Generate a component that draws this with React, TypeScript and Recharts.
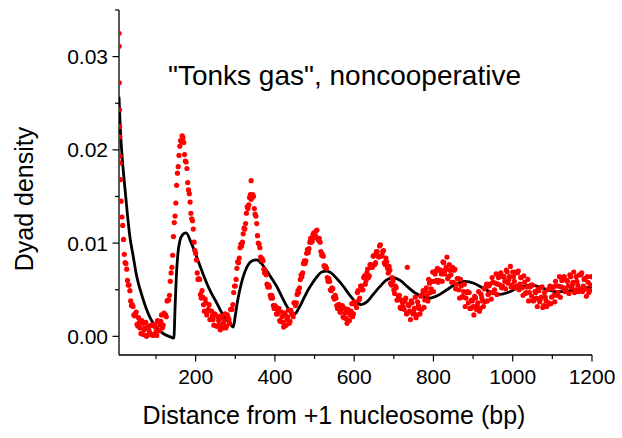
import { ComposedChart, Scatter, Line, XAxis, YAxis } from "recharts";

const FONT = "'Liberation Sans', Arial, sans-serif";

// measured dyad density (units of 1e-4)
// first cluster right at the origin
const dyadStartBp = [6.6, 7, 7.4, 7.8, 8.2, 8.6, 9, 9.4];
const dyadStartE4 = [325, 311, 272, 243, 225, 214, 193, 186];

// one point every 4 bp from 10 bp
const dyadFirstBp = 10;
const dyadStepBp = 4;
const dyadE4 = [
  168, 128, 104, 79, 72, 55, 49, 33, 32, 22,
  26, 11, 15, 3, 14, 7, 15, 1, 7, 2,
  12, 2, 10, 1, 16, 12, 23, 12, 23, 21,
  39, 44, 68, 87, 122, 143, 175, 194, 210, 215,
  208, 188, 180, 157, 144, 126, 115, 92, 82, 61,
  61, 41, 42, 27, 36, 27, 34, 18, 22, 12,
  23, 11, 17, 7, 20, 14, 24, 11, 20, 14,
  29, 34, 54, 61, 80, 84, 99, 101, 116, 121,
  139, 141, 152, 149, 150, 131, 121, 100, 95, 82,
  81, 68, 66, 53, 53, 41, 41, 30, 32, 24,
  30, 16, 21, 10, 23, 18, 28, 16, 25, 21,
  36, 36, 49, 52, 66, 68, 81, 81, 93, 94,
  105, 102, 111, 108, 114, 103, 101, 87, 86, 74,
  73, 59, 59, 49, 51, 40, 41, 30, 34, 26,
  33, 20, 25, 14, 27, 23, 35, 24, 35, 31,
  49, 41, 54, 50, 65, 60, 72, 65, 77, 74,
  87, 79, 91, 85, 98, 87, 92, 77, 80, 68,
  71, 55, 59, 46, 52, 39, 44, 30, 36, 29,
  41, 25, 33, 18, 36, 27, 42, 23, 33, 24,
  29, 49, 39, 52, 38, 57, 51, 69, 59, 70,
  73, 60, 71, 59, 79, 71, 85, 64, 71, 58,
  58, 72, 56, 62, 41, 54, 43, 56, 41, 48,
  47, 30, 38, 23, 41, 33, 48, 30, 41, 32,
  37, 56, 45, 56, 40, 58, 50, 67, 56, 66,
  68, 54, 64, 51, 69, 61, 75, 55, 64, 52,
  54, 70, 56, 63, 44, 58, 47, 61, 47, 55,
  55, 39, 47, 32, 49, 40, 53, 33, 42, 32,
  36, 54, 42, 53, 37, 54, 47, 64, 53, 63,
  64, 50, 59, 46, 64, 55, 69, 50, 59, 48,
  51, 68, 54, 62, 43, 58, 49, 64,
];

// the in-between points, every 4 bp from 12 bp
const dyadMidFirstBp = 12;
const dyadMidE4 = [
  145, 119, 88, 78, 60, 55, 38, 34, 23, 24,
  13, 20, 9, 17, 2, 9, 0, 11, 4, 12,
  1, 13, 5, 17, 6, 16, 9, 25, 23, 38,
  39, 59, 74, 107, 129, 162, 182, 204, 209, 213,
  195, 187, 165, 153, 132, 124, 101, 89, 68, 62,
  45, 49, 34, 40, 23, 29, 18, 27, 18, 24,
  11, 21, 12, 22, 9, 17, 9, 23, 18, 29,
  29, 47, 54, 73, 79, 95, 97, 110, 115, 132,
  137, 149, 147, 152, 137, 129, 108, 99, 85, 83,
  72, 70, 56, 55, 44, 44, 33, 33, 24, 27,
  17, 26, 15, 25, 12, 21, 14, 28, 24, 36,
  33, 45, 47, 61, 64, 78, 78, 89, 90, 101,
  101, 109, 106, 113, 105, 105, 91, 88, 76, 75,
  63, 62, 50, 52, 42, 44, 33, 34, 26, 30,
  21, 30, 19, 29, 17, 27, 21, 37, 34, 47,
  39, 54, 50, 63, 56, 68, 63, 77, 74, 86,
  77, 91, 86, 97, 86, 91, 79, 84, 73, 75,
  57, 63, 50, 54, 39, 43, 31, 39, 31, 38,
  24, 34, 27, 38, 24, 30, 20, 37, 30, 43,
  45, 31, 49, 44, 61, 47, 59, 48, 67, 60,
  58, 71, 67, 80, 67, 74, 62, 77, 66, 74,
  71, 51, 62, 50, 61, 42, 48, 32, 47, 36,
  30, 39, 32, 43, 29, 36, 27, 45, 38, 51,
  53, 38, 54, 47, 63, 47, 57, 45, 63, 55,
  52, 64, 59, 71, 57, 64, 53, 69, 59, 69,
  68, 50, 63, 52, 65, 46, 53, 38, 53, 43,
  38, 48, 41, 51, 37, 42, 31, 47, 38, 50,
  51, 35, 51, 44, 59, 44, 54, 42, 60, 52,
  48, 60, 54, 66, 52, 58, 47, 64, 55, 66,
  66, 48, 61, 51, 64, 47, 55,
];

// stray points
const outlierBp = [340, 734];
const outlierE4 = [167, 74];

// Tonks gas model curve
const modelBp = [
  6.6, 10, 15, 22, 28, 34, 42, 51, 60, 68, 76, 85, 93, 102, 112, 122, 133, 145,
  148, 151, 155, 160, 167, 176, 188, 202, 215, 228, 240, 253, 265, 278, 288, 295,
  300, 305, 310, 316, 324, 333, 343, 354, 366, 380, 392, 404, 418, 432, 442, 450,
  460, 472, 484, 496, 508, 518, 530, 542, 556, 572, 589, 604, 618, 632, 648, 664,
  680, 698, 716, 735, 752, 770, 791, 812, 834, 856, 879, 902, 924, 946, 968, 988,
  1008, 1028, 1047, 1067, 1087, 1107, 1127, 1147, 1165, 1183, 1200,
];
const modelY = [
  0.0257, 0.0222, 0.019, 0.0157, 0.013, 0.0107, 0.0087, 0.0065, 0.005, 0.0039,
  0.0029, 0.002, 0.0014, 0.0009, 0.0005, 0.0002, 0.0, -0.0002,
  0.003, 0.0062, 0.0088, 0.0102, 0.0109, 0.0111, 0.0101, 0.0086, 0.0071, 0.0057,
  0.0046, 0.0036, 0.0026, 0.0018, 0.0013, 0.001,
  0.0022, 0.0036, 0.0047, 0.0058, 0.0069, 0.0077, 0.0081, 0.0082, 0.0078, 0.007,
  0.0062, 0.0054, 0.0042, 0.0031, 0.0026, 0.0024,
  0.003, 0.004, 0.005, 0.0058, 0.0065, 0.0069, 0.007, 0.0068, 0.0062, 0.0054,
  0.0044, 0.0037, 0.0034, 0.0037, 0.0045, 0.0053,
  0.006, 0.0063, 0.006, 0.0053, 0.0047, 0.0043, 0.0041, 0.0044, 0.005, 0.0056,
  0.0059, 0.0057, 0.0052, 0.0047, 0.0045, 0.0047,
  0.0051, 0.0054, 0.0055, 0.0053, 0.005, 0.0048, 0.0048, 0.0049, 0.0051, 0.0052,
  0.0053,
];

const xMajor = [200, 400, 600, 800, 1000, 1200];
const xMinor = [100, 300, 500, 700, 900, 1100];
const yMajor = [0, 0.01, 0.02, 0.03];
const yMajorLabels = ["0.00", "0.01", "0.02", "0.03"];
const yMinor = [0.005, 0.015, 0.025, 0.035];

const dyadData = [
  ...dyadStartBp.map((x, i) => ({ x, y: dyadStartE4[i] / 10000 })),
  ...dyadE4.map((v, i) => ({ x: dyadFirstBp + i * dyadStepBp, y: v / 10000 })),
  ...dyadMidE4.map((v, i) => ({ x: dyadMidFirstBp + i * dyadStepBp, y: v / 10000 })),
  ...outlierBp.map((x, i) => ({ x, y: outlierE4[i] / 10000 })),
];
const modelData = modelBp.map((x, i) => ({ x, y: modelY[i] }));

const XTick = ({ x, y, payload }: any) => {
  const major = xMajor.includes(payload.value);
  return (
    <g>
      <line x1={x} x2={x} y1={y} y2={y + (major ? 6.5 : 4)} stroke="#000" strokeWidth={1.2} />
      {major && (
        <text x={x} y={y + 29} textAnchor="middle" fontSize={21} fontFamily={FONT} fill="#000">
          {payload.value}
        </text>
      )}
    </g>
  );
};

const YTick = ({ x, y, payload }: any) => {
  const idx = yMajor.findIndex((v) => Math.abs(v - payload.value) < 1e-9);
  const major = idx >= 0;
  return (
    <g>
      <line x1={x - (major ? 6.5 : 4)} x2={x} y1={y} y2={y} stroke="#000" strokeWidth={1.2} />
      {major && (
        <text x={x - 11} y={y + 7.5} textAnchor="end" fontSize={21} fontFamily={FONT} fill="#000">
          {yMajorLabels[idx]}
        </text>
      )}
    </g>
  );
};

const Dot = (p: any) => <circle cx={p.cx} cy={p.cy} r={2.6} fill="#ff0000" />;

export default function App() {
  return (
    <div style={{ position: "absolute", left: 0, top: 0, width: 622, height: 438, background: "#fff" }}>
      <ComposedChart width={622} height={438} margin={{ top: 10, right: 30, bottom: 0, left: 0 }}>
        <XAxis
          type="number"
          dataKey="x"
          domain={[6.6, 1200]}
          allowDataOverflow
          ticks={[...xMinor, ...xMajor].sort((a, b) => a - b)}
          interval={0}
          height={83}
          axisLine={{ stroke: "#000", strokeWidth: 1.3 }}
          tickLine={false}
          tickSize={0}
          tickMargin={0}
          tick={<XTick />}
        />
        <YAxis
          type="number"
          dataKey="y"
          domain={[-0.002, 0.035]}
          allowDataOverflow
          ticks={[...yMajor, ...yMinor].sort((a, b) => a - b)}
          interval={0}
          width={119}
          axisLine={{ stroke: "#000", strokeWidth: 1.3 }}
          tickLine={false}
          tickSize={0}
          tickMargin={0}
          tick={<YTick />}
        />
        <Scatter data={dyadData} shape={<Dot />} isAnimationActive={false} />
        <Line
          data={modelData}
          dataKey="y"
          type="monotone"
          stroke="#000"
          strokeWidth={2.8}
          dot={false}
          isAnimationActive={false}
        />
        <text x={168} y={85} fontSize={28} fontFamily={FONT} fill="#000">
          "Tonks gas", noncooperative
        </text>
        <text x={334} y={424} fontSize={25} textAnchor="middle" fontFamily={FONT} fill="#000">
          Distance from +1 nucleosome (bp)
        </text>
        <text
          transform="translate(33,199) rotate(-90)"
          fontSize={25}
          textAnchor="middle"
          fontFamily={FONT}
          fill="#000"
        >
          Dyad density
        </text>
      </ComposedChart>
    </div>
  );
}
